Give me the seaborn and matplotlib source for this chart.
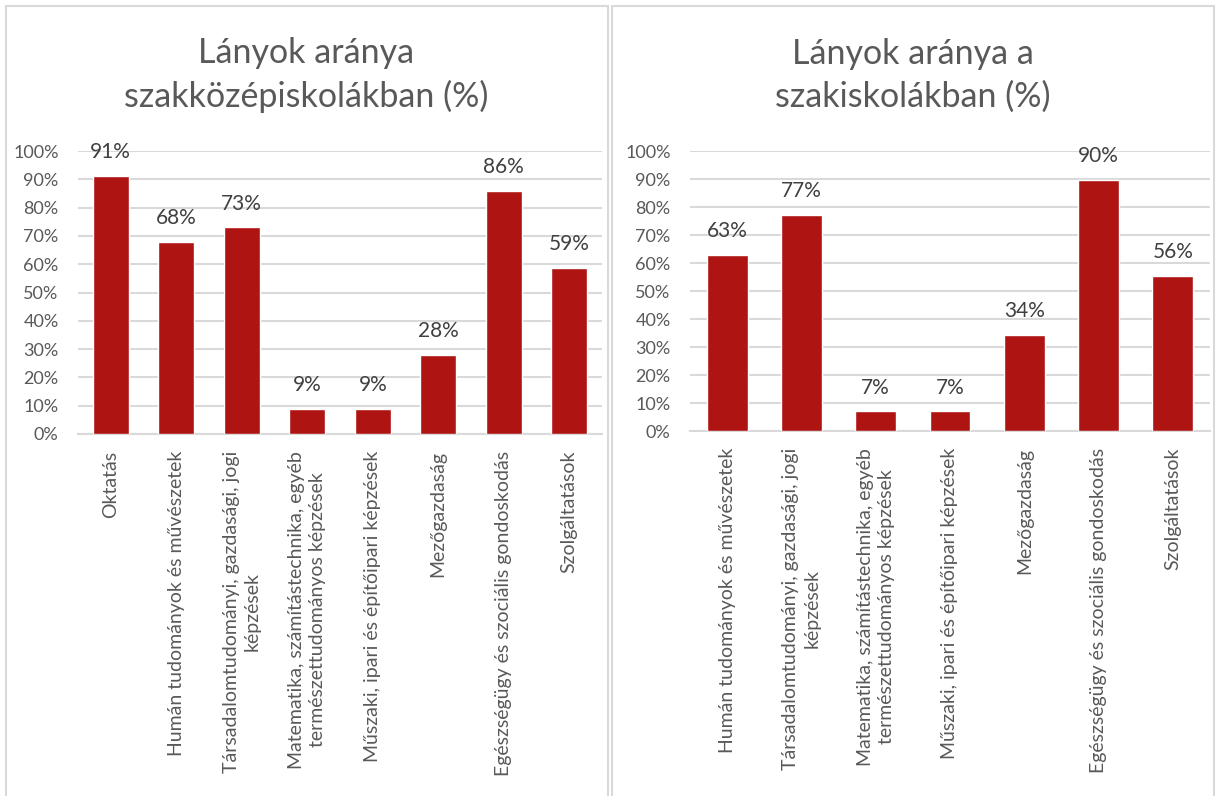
import pandas as pd
import numpy as np
import matplotlib
matplotlib.use('Agg')
import matplotlib.pyplot as plt
from matplotlib.patches import Rectangle
import seaborn as sns

# Adatok - szakközépiskolák
kat_szakkozep = [
    'Oktatás',
    'Humán tudományok és művészetek',
    'Társadalomtudományi, gazdasági, jogi\nképzések',
    'Matematika, számítástechnika, egyéb\ntermészettudományos képzések',
    'Műszaki, ipari és építőipari képzések',
    'Mezőgazdaság',
    'Egészségügy és szociális gondoskodás',
    'Szolgáltatások',
]
ertek_szakkozep = [91.3, 67.9, 73.0, 8.7, 8.9, 28.0, 85.9, 58.7]

# Adatok - szakiskolák
kat_szakiskola = [
    'Humán tudományok és művészetek',
    'Társadalomtudományi, gazdasági, jogi\nképzések',
    'Matematika, számítástechnika, egyéb\ntermészettudományos képzések',
    'Műszaki, ipari és építőipari képzések',
    'Mezőgazdaság',
    'Egészségügy és szociális gondoskodás',
    'Szolgáltatások',
]
ertek_szakiskola = [62.9, 77.1, 7.0, 7.0, 34.4, 89.8, 55.5]

cimek = ['Lányok aránya\nszakközépiskolákban (%)', 'Lányok aránya a\nszakiskolákban (%)']
y_ticks = [0, 10, 20, 30, 40, 50, 60, 70, 80, 90, 100]

BAR = '#AD1412'
TEXT = '#595959'
GRID = '#D9D9D9'

sns.set_style('white')
plt.rcParams['font.family'] = ['Lato', 'DejaVu Sans']

W, H = 1219, 796
fig = plt.figure(figsize=(W / 100, H / 100), dpi=100)

# Panel keretek
for x0, x1 in [(6, 608), (612, 1214)]:
    fig.patches.append(Rectangle((x0 / W, -0.01), (x1 - x0) / W, 1.01 - 6 / H,
                                 transform=fig.transFigure, fill=False,
                                 edgecolor=GRID, linewidth=1.5))

# Tengelyek pozíciói (pixelben mérve)
ax1 = fig.add_axes([78 / W, 1 - 434 / H, (602 - 78) / W, (434 - 151) / H])
ax2 = fig.add_axes([690 / W, 1 - 431 / H, (1210 - 690) / W, (431 - 151) / H])

panels = [(ax1, kat_szakkozep, ertek_szakkozep, 306),
          (ax2, kat_szakiskola, ertek_szakiskola, 913)]

for (ax, kat, ertek, cx), cim in zip(panels, cimek):
    df = pd.DataFrame({'kategoria': kat, 'arany': ertek})
    sns.barplot(data=df, x='kategoria', y='arany', color=BAR, width=0.55,
                saturation=1, ax=ax, zorder=3)
    labels = [f'{v:.0f}%' for v in ertek]
    ax.bar_label(ax.containers[0], labels=labels, padding=10,
                 fontsize=15, color='#404040')
    ax.set_ylim(0, 100)
    ax.set_yticks(y_ticks)
    ax.set_yticklabels([f'{t}%' for t in y_ticks], fontsize=13, color=TEXT)
    ax.set_xticks(range(len(kat)))
    ax.set_xticklabels(kat, rotation=90, ha='center', va='top',
                       multialignment='center', fontsize=14, color=TEXT,
                       linespacing=1.3)
    ax.tick_params(axis='y', length=0, pad=14)
    ax.tick_params(axis='x', length=0, pad=12)
    ax.grid(axis='y', color=GRID, linewidth=1.5, zorder=0)
    ax.set_axisbelow(True)
    for s in ['top', 'right', 'left']:
        ax.spines[s].set_visible(False)
    ax.spines['bottom'].set_color(GRID)
    ax.spines['bottom'].set_linewidth(1.5)
    ax.set_xlabel('')
    ax.set_ylabel('')
    fig.text(cx / W, 1 - 75 / H, cim, ha='center', va='center',
             fontsize=24.5, color=TEXT, linespacing=1.4)

fig.savefig('out.png', dpi=100)
